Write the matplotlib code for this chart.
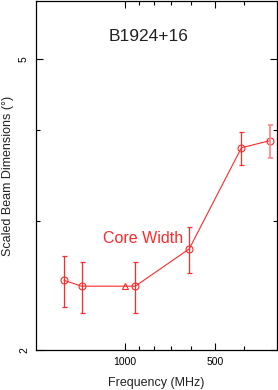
import matplotlib.pyplot as plt
from matplotlib.ticker import FixedLocator, NullFormatter

plt.rcParams['font.family'] = ['Liberation Sans', 'DejaVu Sans']

# core width measurements (frequency in MHz, scaled width in degrees)
freqs = [1600, 1400, 925, 610, 408, 328]
widths = [2.49, 2.445, 2.445, 2.75, 3.78, 3.865]
err_lo = [2.29, 2.25, 2.25, 2.545, 3.58, 3.66]
err_hi = [2.69, 2.64, 2.64, 2.945, 3.97, 4.06]

# extra point drawn with a triangle
tri_freq = [1000]
tri_width = [2.45]

red = '#ff2a2a'
pink = '#ff8a8a'

fig = plt.figure(figsize=(2.78, 3.90), dpi=100)
ax = fig.add_axes([36/278, 1 - 350/390, 241/278, 349/390])

ax.set_xscale('log')
ax.set_yscale('log')
ax.set_xlim(1990, 310)
ax.set_ylim(2, 6)

ax.plot(freqs, widths, color=red, lw=0.8, marker='o', ms=5,
        mfc='none', mec=red, mew=0.8)
ax.plot(tri_freq, tri_width, color=red, marker='^', ms=5, mfc='none',
        mec=red, mew=0.8, ls='none')

for i in range(len(freqs)):
    c = pink if i == len(freqs) - 1 else red
    lw = 1.3 if i == len(freqs) - 1 else 0.9
    ax.errorbar([freqs[i]], [widths[i]],
                yerr=[[widths[i] - err_lo[i]], [err_hi[i] - widths[i]]],
                fmt='none', ecolor=c, elinewidth=lw, capsize=1.8, capthick=lw)

ax.text(0.30, 0.897, 'B1924+16', transform=ax.transAxes, ha='left', va='center',
        fontsize=12.5, color='#222222')
ax.text(0.278, 0.32, 'Core Width', transform=ax.transAxes, ha='left', va='center',
        fontsize=11.5, color=red)

ax.xaxis.set_major_locator(FixedLocator([1000, 500]))
ax.xaxis.set_minor_locator(FixedLocator([900, 800, 700, 600, 400]))
ax.set_xticklabels(['1000', '500'])
ax.xaxis.set_minor_formatter(NullFormatter())

ax.yaxis.set_major_locator(FixedLocator([2, 5]))
ax.yaxis.set_minor_locator(FixedLocator([3, 4]))
ax.set_yticklabels(['2', '5'], rotation=90, va='center')
ax.yaxis.set_minor_formatter(NullFormatter())

ax.tick_params(which='both', direction='in', top=True, right=True,
               labelsize=7.5, width=0.8)
ax.tick_params(which='major', length=5, pad=5)
ax.tick_params(which='minor', length=3)
for s in ax.spines.values():
    s.set_linewidth(0.9)

ax.set_xlabel('Frequency (MHz)', fontsize=9, color='#222222')
ax.xaxis.set_label_coords(0.5, -0.078)
ax.set_ylabel('Scaled Beam Dimensions (°)', fontsize=9, color='#222222')
ax.yaxis.set_label_coords(-0.092, 0.5)

fig.savefig('out.png', dpi=100)
